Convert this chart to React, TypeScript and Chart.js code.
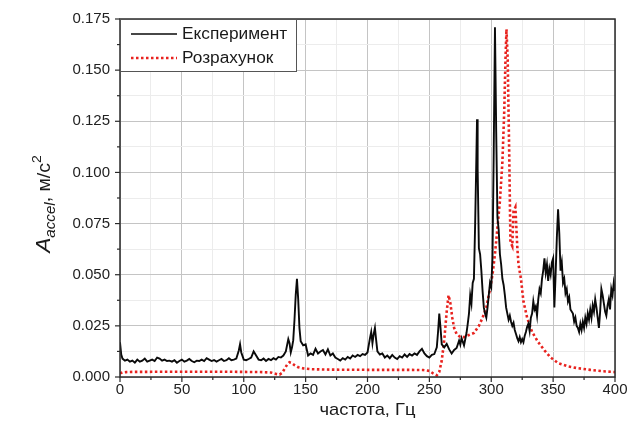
import React, { useEffect, useRef } from 'react';
import { Chart, registerables } from 'chart.js';
Chart.register(...registerables);

const FONT = 'Arial, "Liberation Sans", sans-serif';

// ---- data ----
const seriesNames = ['Експеримент', 'Розрахунок'];
const xTitle = 'частота, Гц';

const freqExp = [
  0, 1, 2, 4, 6, 8, 10, 12, 14, 16, 18, 20, 22, 24, 26, 28, 30, 32, 34, 36, 38, 40, 42, 44, 46, 48,
  50, 52, 54, 56, 58, 60, 62, 64, 66, 68, 70, 72, 74, 76, 78, 80, 82, 84, 86, 88, 90, 92, 94, 96, 97, 98,
  100, 102, 104, 106, 108, 110, 112, 114, 116, 118, 120, 122, 124, 126, 128, 130, 132, 134, 136, 137, 138, 139,
  140, 141, 142, 143, 144, 145, 146, 148, 150, 152, 154, 156, 158, 160, 162, 164, 166, 168, 170, 172, 174, 176, 178,
  180, 182, 184, 186, 188, 190, 192, 194, 196, 198, 200, 202, 203, 204, 205, 206, 207, 208, 210, 212, 214, 216, 218,
  220, 222, 224, 226, 228, 230, 232, 234, 236, 238, 240, 242, 244, 246, 248, 250, 252, 254, 256, 257, 258, 259,
  260, 262, 264, 266, 268, 270, 272, 274, 275, 276, 278, 280, 281, 282, 283, 284, 285, 286, 287, 288, 288.5, 289,
  290, 291, 292, 293, 294, 295, 296, 297, 298, 299, 300, 301, 302, 303, 304, 305, 306, 307, 308, 309, 310, 311, 312,
  313, 314, 315, 316, 317, 318, 319, 320, 321, 322, 323, 324, 325, 326, 327, 328, 329, 330, 331, 332, 333, 334, 335,
  336, 337, 338, 339, 340, 341, 342, 343, 344, 345, 346, 347, 348, 349, 350, 351, 352, 353, 354, 355, 356, 357, 358,
  359, 360, 361, 362, 363, 364, 366, 367, 368, 369, 370, 371, 372, 373, 374, 375, 376, 377, 378, 379, 380, 381, 382,
  383, 384, 385, 386, 387, 388, 389, 390, 391, 392, 393, 394, 395, 396, 397, 398, 399, 400,
];
const accelExp = [
  0.017, 0.011, 0.009, 0.008, 0.0085, 0.0075, 0.008, 0.007, 0.0085, 0.0075, 0.008, 0.009, 0.0075, 0.008, 0.0085, 0.0078, 0.0095, 0.009, 0.008, 0.0085, 0.0078, 0.008, 0.0075, 0.0082, 0.007, 0.0078,
  0.0085, 0.0075, 0.008, 0.0088, 0.0078, 0.0072, 0.008, 0.0078, 0.0085, 0.0078, 0.0092, 0.0085, 0.0078, 0.0083, 0.0075, 0.0082, 0.0088, 0.0078, 0.0082, 0.0092, 0.0082, 0.0085, 0.009, 0.013, 0.016, 0.012,
  0.0085, 0.0082, 0.0088, 0.0095, 0.0125, 0.0105, 0.0085, 0.0082, 0.009, 0.0078, 0.0088, 0.0082, 0.0092, 0.0085, 0.0098, 0.0095, 0.0105, 0.0125, 0.0185, 0.0165, 0.012, 0.0145,
  0.018, 0.028, 0.04, 0.048, 0.038, 0.024, 0.0175, 0.0155, 0.016, 0.0105, 0.0115, 0.0108, 0.0138, 0.0115, 0.0125, 0.0132, 0.011, 0.0135, 0.0105, 0.0115, 0.0095, 0.0088, 0.008,
  0.0092, 0.0085, 0.0098, 0.009, 0.0105, 0.0098, 0.0108, 0.0102, 0.0112, 0.0108, 0.012, 0.019, 0.022, 0.0165, 0.021, 0.024, 0.018, 0.0125, 0.011, 0.0115, 0.0095, 0.0105, 0.0092,
  0.0108, 0.0095, 0.0088, 0.0102, 0.0095, 0.011, 0.0098, 0.0112, 0.0105, 0.0115, 0.0108, 0.0125, 0.0138, 0.0115, 0.0102, 0.0095, 0.0108, 0.0112, 0.0145, 0.022, 0.031, 0.024,
  0.016, 0.0145, 0.0162, 0.0135, 0.0115, 0.0132, 0.0142, 0.0178, 0.0158, 0.019, 0.0155, 0.0215, 0.026, 0.031, 0.04, 0.036, 0.046, 0.048, 0.075, 0.108, 0.126, 0.102,
  0.063, 0.06, 0.052, 0.042, 0.034, 0.031, 0.029, 0.034, 0.04, 0.046, 0.044, 0.058, 0.11, 0.171, 0.12, 0.078, 0.072, 0.06, 0.055, 0.048, 0.045, 0.04, 0.034,
  0.031, 0.028, 0.03, 0.027, 0.025, 0.0265, 0.023, 0.021, 0.019, 0.0175, 0.0195, 0.017, 0.0185, 0.017, 0.02, 0.022, 0.0245, 0.026, 0.0225, 0.029, 0.031, 0.037, 0.033,
  0.0345, 0.03, 0.038, 0.043, 0.041, 0.048, 0.052, 0.058, 0.051, 0.055, 0.047, 0.053, 0.05, 0.056, 0.058, 0.034, 0.05, 0.068, 0.082, 0.07, 0.052, 0.056, 0.046,
  0.048, 0.041, 0.043, 0.037, 0.039, 0.033, 0.031, 0.027, 0.029, 0.025, 0.024, 0.022, 0.026, 0.023, 0.027, 0.024, 0.029, 0.026, 0.031, 0.028, 0.033, 0.029, 0.035,
  0.032, 0.038, 0.034, 0.029, 0.024, 0.032, 0.043, 0.04, 0.036, 0.032, 0.03, 0.035, 0.038, 0.033, 0.043, 0.04, 0.046, 0.042,
];

const freqCalc = [
  0, 2, 5, 10, 20, 40, 60, 80, 100, 115, 122, 126, 129, 131, 133, 135, 137, 139, 141, 144, 148, 155, 170, 200, 230, 245,
  250, 253, 256, 258, 260, 262, 264, 265.5, 267, 268.5, 270, 272, 275, 278, 282, 286, 290, 293, 296, 299, 301, 303, 305,
  307, 309, 310.5, 311.5, 312.3, 313.3, 314.5, 315.5, 317, 318, 319.5, 321, 322, 324, 326, 329, 333, 338, 343, 348, 354,
  362, 370, 380, 390, 400,
];
const accelCalc = [
  0.0018, 0.0022, 0.0024, 0.0025, 0.0025, 0.0026, 0.0026, 0.0026, 0.0025, 0.0024, 0.0022, 0.0015, 0.0012, 0.002, 0.004, 0.006, 0.0072, 0.0068, 0.0058, 0.0048, 0.0042, 0.0038, 0.0036, 0.0035, 0.0035, 0.0034,
  0.003, 0.0018, 0.0008, 0.0025, 0.008, 0.018, 0.032, 0.04, 0.036, 0.029, 0.024, 0.021, 0.0195, 0.0195, 0.0205, 0.0215, 0.025, 0.029, 0.034, 0.043, 0.05, 0.06, 0.073,
  0.086, 0.105, 0.13, 0.155, 0.17, 0.155, 0.11, 0.066, 0.064, 0.081, 0.083, 0.064, 0.055, 0.048, 0.037, 0.029, 0.022, 0.017, 0.013, 0.0095, 0.0068,
  0.0052, 0.0043, 0.0035, 0.0028, 0.0024,
];

const xMin = 0, xMax = 400, xStep = 25, xLabelStep = 50;
const yMin = 0, yMax = 0.175, yStep = 0.0125, yLabelStep = 0.025;

const expColor = '#0a0a0a';
const calcColor = '#e8221e';

const isMultiple = (v: number, step: number) => Math.abs(v / step - Math.round(v / step)) < 1e-6;

const framePlugin = {
  id: 'frameTicks',
  afterDraw(chart: any) {
    const { ctx, chartArea: a, scales } = chart;
    ctx.save();
    ctx.strokeStyle = '#2a2a2a';
    ctx.lineWidth = 1.5;
    ctx.strokeRect(a.left, a.top, a.right - a.left, a.bottom - a.top);
    ctx.lineWidth = 1.2;
    scales.x.ticks.forEach((t: any) => {
      const px = scales.x.getPixelForValue(t.value);
      const len = isMultiple(t.value, xLabelStep) ? 5 : 3;
      ctx.beginPath();
      ctx.moveTo(px, a.bottom);
      ctx.lineTo(px, a.bottom + len);
      ctx.stroke();
    });
    scales.y.ticks.forEach((t: any) => {
      const py = scales.y.getPixelForValue(t.value);
      const len = isMultiple(t.value, yLabelStep) ? 5 : 3;
      ctx.beginPath();
      ctx.moveTo(a.left - len, py);
      ctx.lineTo(a.left, py);
      ctx.stroke();
    });

    // legend
    const lx = a.left, ly = a.top, lw = 176, lh = 52;
    ctx.fillStyle = '#fff';
    ctx.fillRect(lx, ly, lw, lh);
    ctx.strokeStyle = '#555';
    ctx.lineWidth = 1;
    ctx.strokeRect(lx + 0.5, ly + 0.5, lw, lh);
    const rows = [
      { y: ly + 15, color: expColor, dash: [] as number[], width: 1.5 },
      { y: ly + 39, color: calcColor, dash: [2.5, 2.5], width: 2.5 },
    ];
    rows.forEach((r, i) => {
      ctx.save();
      ctx.strokeStyle = r.color;
      ctx.lineWidth = r.width;
      ctx.setLineDash(r.dash);
      ctx.beginPath();
      ctx.moveTo(lx + 11, r.y);
      ctx.lineTo(lx + 57, r.y);
      ctx.stroke();
      ctx.restore();
      ctx.save();
      ctx.fillStyle = '#1a1a1a';
      ctx.font = `16px ${FONT}`;
      ctx.textBaseline = 'middle';
      ctx.translate(lx + 62, r.y + 1);
      ctx.scale(1.08, 1);
      ctx.fillText(seriesNames[i], 0, 0);
      ctx.restore();
    });

    // y title: A_accel, м/с²
    ctx.save();
    ctx.translate(50, 204);
    ctx.rotate(-Math.PI / 2);
    ctx.scale(1.08, 1);
    ctx.fillStyle = '#1a1a1a';
    ctx.textBaseline = 'alphabetic';
    const pieces = [
      { t: 'A', f: `italic 21px ${FONT}`, dy: 0 },
      { t: 'accel', f: `italic 14px ${FONT}`, dy: 5 },
      { t: ', ', f: `18px ${FONT}`, dy: 0 },
      { t: 'м/с', f: `18px ${FONT}`, dy: 0 },
      { t: '2', f: `13px ${FONT}`, dy: -9 },
    ];
    let total = 0;
    const widths = pieces.map((p) => { ctx.font = p.f; const w = ctx.measureText(p.t).width; total += w; return w; });
    let cx = -total / 2;
    pieces.forEach((p, i) => { ctx.font = p.f; ctx.fillText(p.t, cx, p.dy); cx += widths[i]; });
    ctx.restore();

    // x title
    ctx.save();
    ctx.fillStyle = '#1a1a1a';
    ctx.font = `17px ${FONT}`;
    ctx.textAlign = 'center';
    ctx.textBaseline = 'middle';
    ctx.translate((a.left + a.right) / 2, 410);
    ctx.scale(1.08, 1);
    ctx.fillText(xTitle, 0, 0);
    ctx.restore();

    ctx.restore();
  },
};

export default function App() {
  const ref = useRef<HTMLCanvasElement>(null);
  useEffect(() => {
    const chart = new Chart(ref.current!, {
      type: 'line',
      data: {
        datasets: [
          {
            label: seriesNames[0],
            data: freqExp.map((f, i) => ({ x: f, y: accelExp[i] })),
            borderColor: expColor,
            borderWidth: 1.9,
            pointRadius: 0,
            tension: 0,
          },
          {
            label: seriesNames[1],
            data: freqCalc.map((f, i) => ({ x: f, y: accelCalc[i] })),
            borderColor: calcColor,
            borderWidth: 2.6,
            borderDash: [2.5, 2.5],
            pointRadius: 0,
            tension: 0,
          },
        ],
      },
      options: {
        animation: false,
        responsive: true,
        maintainAspectRatio: false,
        layout: { padding: { top: 14, right: 29, left: 0, bottom: 0 } },
        plugins: { legend: { display: false }, tooltip: { enabled: false } },
        scales: {
          x: {
            type: 'linear',
            min: xMin,
            max: xMax,
            ticks: {
              stepSize: xStep,
              padding: 4,
              color: '#222',
              font: { family: FONT, size: 15 },
              maxRotation: 0,
              autoSkip: false,
              callback: (v: any) => (isMultiple(Number(v), xLabelStep) ? String(v) : ''),
            },
            grid: {
              drawTicks: false,
              color: (c: any) => (isMultiple(c.tick.value, xLabelStep) ? '#c4c4c4' : '#ececec'),
              lineWidth: 1,
            },
            border: { display: false },
            afterFit: (s: any) => { s.height = 66; },
          },
          y: {
            type: 'linear',
            min: yMin,
            max: yMax,
            ticks: {
              stepSize: yStep,
              padding: 10,
              color: '#222',
              font: { family: FONT, size: 15 },
              autoSkip: false,
              callback: (v: any) => (isMultiple(Number(v), yLabelStep) ? Number(v).toFixed(3) : ''),
            },
            grid: {
              drawTicks: false,
              color: (c: any) => (isMultiple(c.tick.value, yLabelStep) ? '#c4c4c4' : '#ececec'),
              lineWidth: 1,
            },
            border: { display: false },
            afterFit: (s: any) => { s.width = 120; },
          },
        },
      },
      plugins: [framePlugin],
    });
    return () => chart.destroy();
  }, []);
  return (
    <div style={{ position: 'fixed', left: 0, top: 0, width: 644, height: 443, background: '#fff' }}>
      <canvas ref={ref} />
    </div>
  );
}
